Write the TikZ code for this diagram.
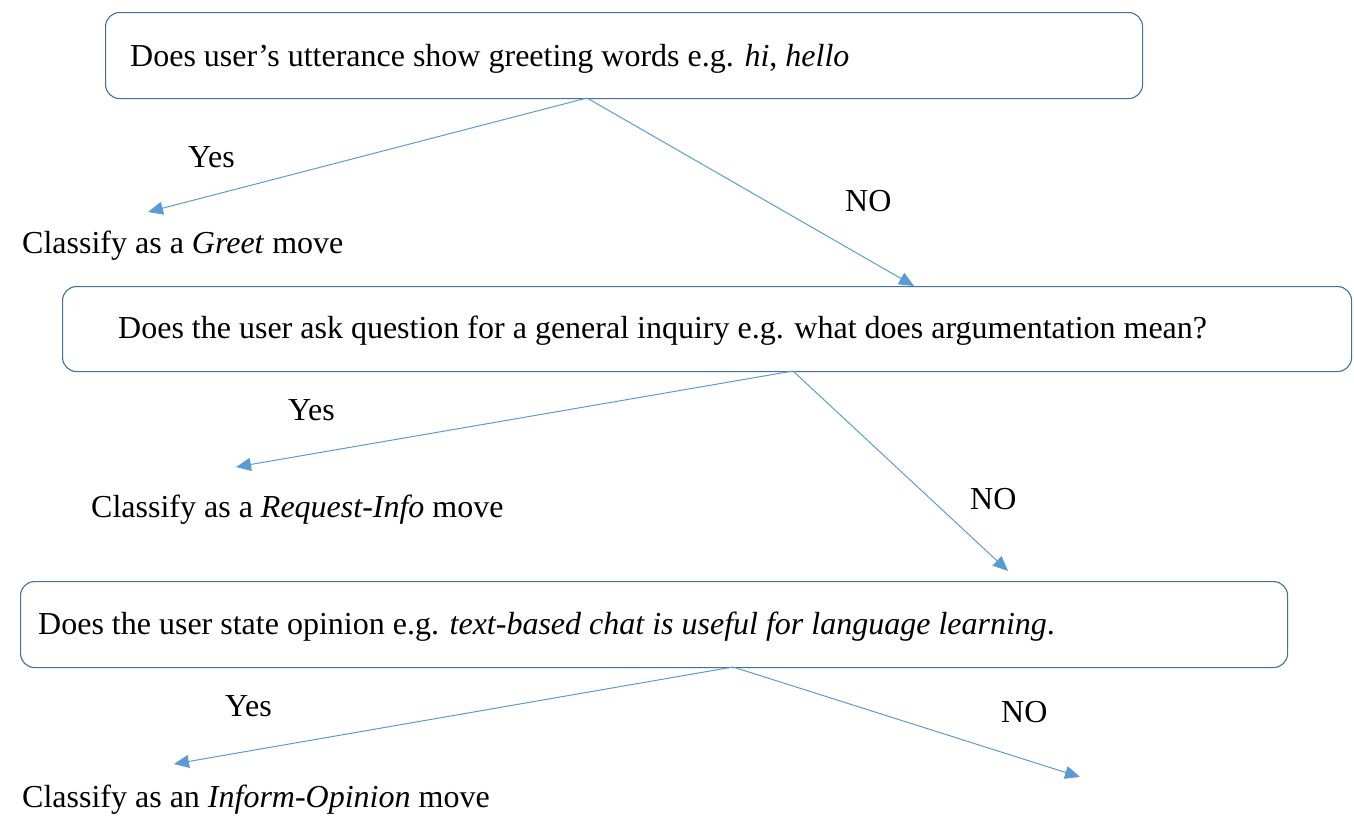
\documentclass[tikz,border=0pt]{standalone}
\usepackage{fontspec}
\setmainfont{Liberation Serif}
\usetikzlibrary{arrows.meta}
\definecolor{boxline}{HTML}{41719C}
\definecolor{arrowline}{HTML}{5B9BD5}
\begin{document}
\begin{tikzpicture}[x=1pt,y=-1pt,
  qbox/.style={draw=boxline, line width=1.1pt, rounded corners=14pt, inner sep=0pt, anchor=north west},
  lbl/.style={anchor=base west, inner sep=0pt, font=\fontsize{32}{37}\selectfont},
  link/.style={draw=arrowline, line width=1pt, -{Triangle[length=15pt,width=13pt]}}]
\useasboundingbox (0,0) rectangle (1354,819);

% question boxes
\node[qbox, minimum width=1037pt, minimum height=86pt] (q1) at (105,12) {};
\node[qbox, minimum width=1289pt, minimum height=85pt] (q2) at (62,286) {};
\node[qbox, minimum width=1267pt, minimum height=86pt] (q3) at (20,581) {};

% question texts
\node[lbl] (t1) at (130,66) {Does user’s utterance show greeting words e.g. \textit{hi}, \textit{hello}};
\node[lbl] (t2) at (118,338) {Does the user ask question for a general inquiry e.g. what does argumentation mean?};
\node[lbl] (t3) at (38,634) {Does the user state opinion e.g. \textit{text-based chat is useful for language learning}.};

% outcomes and branch labels
\node[lbl] (y1) at (188,167) {Yes};
\node[lbl] (n1) at (845,211) {NO};
\node[lbl] (c1) at (22,253) {Classify as a \textit{Greet} move};
\node[lbl] (y2) at (288,420) {Yes};
\node[lbl] (n2) at (970,509) {NO};
\node[lbl] (c2) at (91,517) {Classify as a \textit{Request-Info} move};
\node[lbl] (y3) at (225,716) {Yes};
\node[lbl] (n3) at (1001,722) {NO};
\node[lbl] (c3) at (22,807) {Classify as an \textit{Inform-Opinion} move};

% branch points on the box edges and arrow ends
\coordinate (s1) at (587,98);
\coordinate (s2) at (793,371);
\coordinate (s3) at (733,667);
\coordinate (e1) at (148,212);
\coordinate (e2) at (914,286);
\coordinate (e3) at (236,467);
\coordinate (e4) at (1008,571);
\coordinate (e5) at (174,764);
\coordinate (e6) at (1080,777);

\draw[link] (s1) -- (e1);
\draw[link] (s1) -- (e2);
\draw[link] (s2) -- (e3);
\draw[link] (s2) -- (e4);
\draw[link] (s3) -- (e5);
\draw[link] (s3) -- (e6);
\end{tikzpicture}
\end{document}
